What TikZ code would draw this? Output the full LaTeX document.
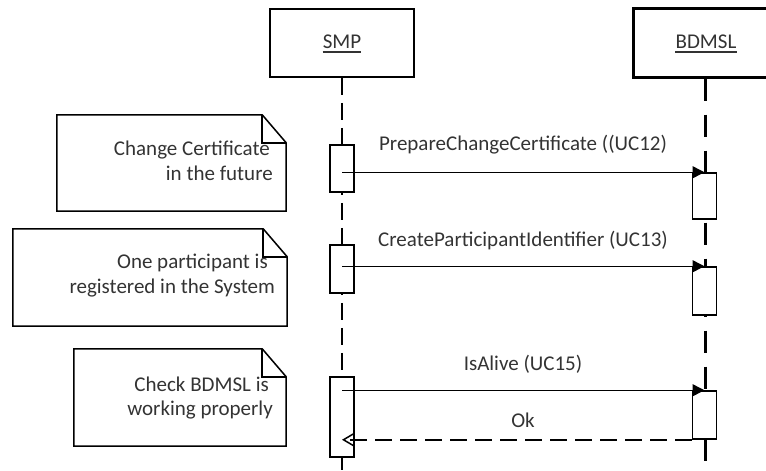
\documentclass[tikz,border=0pt]{standalone}
\usepackage{fontspec}
\setmainfont{Carlito}
\usetikzlibrary{arrows.meta}
\definecolor{txt}{HTML}{333333}
\tikzset{
  actor/.style={draw, line width=1.5pt, minimum width=144pt, minimum height=68pt, inner sep=0pt},
  actorthick/.style={actor, line width=3pt, minimum height=69pt},
  lbl/.style={inner sep=0pt, text=txt},
  uline/.style={line width=1.1pt, draw=txt},
  smpline/.style={line width=1.5pt, dash pattern=on 17pt off 8pt},
  bdline/.style={line width=3pt, dash pattern=on 22pt off 14pt},
  act/.style={draw, fill=white, line width=1.5pt, minimum width=24pt, inner sep=0pt},
  msg/.style={line width=1.5pt, -{Triangle[length=12pt,width=12pt]}},
  ret/.style={line width=1.5pt, dash pattern=on 17pt off 8pt, -{Straight Barb[length=11pt,width=13pt]}},
  notebox/.style={inner sep=0pt},
  noteline/.style={line width=1.5pt, line join=miter},
}
\begin{document}
\begin{tikzpicture}[x=1pt,y=-1pt, font=\fontsize{21}{25}\selectfont]
\useasboundingbox (0,0) rectangle (766,471);
\clip (0,0) rectangle (766,471);

% actors
\node[actor] (smp) at (342,43) {};
\node[lbl, anchor=base] (smplbl) at (342,48) {SMP};
\draw[uline] ([yshift=-4pt]smplbl.base west) -- ([yshift=-4pt]smplbl.base east);
\node[actorthick] (bd) at (705,42.5) {};
\node[lbl, anchor=base] (bdlbl) at (706,48) {BDMSL};
\draw[uline] ([yshift=-4pt]bdlbl.base west) -- ([yshift=-4pt]bdlbl.base east);

% lifelines
\coordinate (smpend) at (342,471);
\coordinate (bdend) at (705,471);
\draw[smpline] (smp.south) -- (smpend);
\draw[bdline] (bd.south) -- (bdend);

% activations
\node[act, minimum height=47pt] (a1) at (342,168.5) {};
\node[act, minimum height=48pt] (a2) at (342,269) {};
\node[act, minimum height=80pt] (a3) at (342,417) {};
\node[act, minimum height=46pt] (b1) at (704.5,196) {};
\node[act, minimum height=48pt] (b2) at (704.5,291) {};
\node[act, minimum height=48pt] (b3) at (704.5,415) {};

% messages
\draw[msg] (a1.center |- b1.north) -- (b1.north);
\draw[msg] (a2.center |- b2.north) -- (b2.north);
\draw[msg] (a3.center |- b3.north) -- (b3.north);
\draw[ret] (b3.south west) -- (a3.center |- b3.south);
\node[lbl, anchor=base] (m1) at (523,150) {PrepareChangeCertificate ((UC12)};
\node[lbl, anchor=base] (m2) at (523,246) {CreateParticipantIdentifier (UC13)};
\node[lbl, anchor=base] (m3) at (523,370) {IsAlive (UC15)};
\node[lbl, anchor=base] (m4) at (523,427) {Ok};

% notes
\node[notebox, minimum width=229pt, minimum height=96pt] (n1) at (171.5,163) {};
\node[notebox, minimum width=274pt, minimum height=97pt] (n2) at (150,277.5) {};
\node[notebox, minimum width=212pt, minimum height=97pt] (n3) at (180,397.5) {};
\foreach \n in {n1,n2,n3}{
  \draw[noteline] (\n.north west) -- ([xshift=-24pt]\n.north east) -- ([yshift=-28pt]\n.north east)
     -- (\n.south east) -- (\n.south west) -- cycle;
  \draw[noteline] ([xshift=-24pt]\n.north east) -- ([xshift=-24pt,yshift=-28pt]\n.north east)
     -- ([yshift=-28pt]\n.north east);
}
\node[lbl, anchor=base east] (t1a) at (270,155) {Change Certificate};
\node[lbl, anchor=base east] (t1b) at (273,180) {in the future};
\node[lbl, anchor=base east] (t2a) at (268,268) {One participant is};
\node[lbl, anchor=base east] (t2b) at (275,293) {registered in the System};
\node[lbl, anchor=base east] (t3a) at (269,391) {Check BDMSL is};
\node[lbl, anchor=base east] (t3b) at (273,415) {working properly};
\end{tikzpicture}
\end{document}
